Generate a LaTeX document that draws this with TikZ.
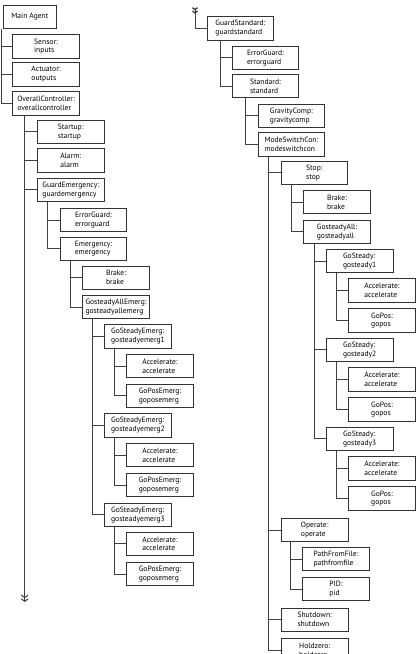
\documentclass[tikz,border=0pt]{standalone}
\usepackage{fontspec}
\setmainfont{PT Sans}
\usetikzlibrary{positioning,arrows.meta}

\begin{document}
\begin{tikzpicture}[x=1pt,y=-1pt,>={Straight Barb[length=2.6pt,width=7pt,line width=1pt]},
    box/.style={draw=black!80,line width=.9pt,anchor=west,align=left,minimum width=66.5pt,minimum height=23.5pt,inner xsep=1pt,inner ysep=1pt,font=\fontsize{7.6}{8.8}\selectfont},
    link/.style={draw=black!75,line width=.8pt},
    cont/.style={{Straight Barb[reversed,length=1.8pt,width=5pt,line width=1.4pt]Straight Barb[reversed,length=1.8pt,width=5pt,line width=1.4pt]}-}]
      \useasboundingbox (0,0) rectangle (420,654);
      % left column
      \node[box,minimum width=53pt] (ma) at (3,17) {Main Agent};
      \node[box] (sen) at (12.3,46.5) {Sensor:\\inputs};
      \node[box] (act) at (12.3,74.3) {Actuator:\\outputs};
      \node[box] (occ) at (12.3,103.5) {OverallController:\\overallcontroller};

      \node[box] (sta) at (37,131.7) {Startup:\\startup};
      \node[box] (alm) at (37,160.3) {Alarm:\\alarm};
      \node[box] (gem) at (37,189.7) {GuardEmergency:\\guardemergency};

      \node[box] (erg1) at (59.8,220) {ErrorGuard:\\errorguard};
      \node[box] (emg) at (59.8,248.7) {Emergency:\\emergency};

      \node[box] (brk1) at (82.3,277.7) {Brake:\\brake};
      \node[box] (gae) at (82.3,307) {GosteadyAllEmerg:\\gosteadyallemerg};

      \node[box] (gse1) at (104.3,336.3) {GoSteadyEmerg:\\gosteadyemerg1};
      \node[box] (acc1) at (126.3,366) {Accelerate:\\accelerate};
      \node[box] (gpe1) at (126.3,395.8) {GoPosEmerg:\\goposemerg};
      \node[box] (gse2) at (104.3,425.3) {GoSteadyEmerg:\\gosteadyemerg2};
      \node[box] (acc2) at (126.3,455) {Accelerate:\\accelerate};
      \node[box] (gpe2) at (126.3,485) {GoPosEmerg:\\goposemerg};
      \node[box] (gse3) at (104.3,514.7) {GoSteadyEmerg:\\gosteadyemerg3};
      \node[box] (acc3) at (126.3,543.8) {Accelerate:\\accelerate};
      \node[box] (gpe3) at (126.3,574) {GoPosEmerg:\\goposemerg};
      \coordinate (lend) at (24.7,602);

      % right column
      \coordinate (rbeg) at (195,7);
      \node[box] (gst) at (206.7,28.3) {GuardStandard:\\guardstandard};
      \node[box] (erg2) at (231.7,57.7) {ErrorGuard:\\errorguard};
      \node[box] (std) at (231.7,86) {Standard:\\standard};
      \node[box] (grv) at (257.7,115.8) {GravityComp:\\gravitycomp};
      \node[box] (msc) at (257.7,144.3) {ModeSwitchCon:\\modeswitchcon};

      \node[box] (stp) at (280.7,172.8) {Stop:\\stop};
      \node[box] (brk2) at (303.3,202) {Brake:\\brake};
      \node[box] (gsa) at (303.3,231.7) {GosteadyAll:\\gosteadyall};

      \node[box] (gs1) at (326,261) {GoSteady:\\gosteady1};
      \node[box] (ac1) at (348.3,290.2) {Accelerate:\\accelerate};
      \node[box] (gp1) at (348.3,320.5) {GoPos:\\gopos};
      \node[box] (gs2) at (326,349.8) {GoSteady:\\gosteady2};
      \node[box] (ac2) at (348.3,379.2) {Accelerate:\\accelerate};
      \node[box] (gp2) at (348.3,409.5) {GoPos:\\gopos};
      \node[box] (gs3) at (326,438.8) {GoSteady:\\gosteady3};
      \node[box] (ac3) at (348.3,468.3) {Accelerate:\\accelerate};
      \node[box] (gp3) at (348.3,498.5) {GoPos:\\gopos};

      \node[box] (opr) at (281,530) {Operate:\\operate};
      \node[box] (pff) at (302.3,559) {PathFromFile:\\pathfromfile};
      \node[box] (pid) at (302.3,589) {PID:\\pid};
      \node[box] (sdn) at (281,619.7) {Shutdown:\\shutdown};
      \node[box] (hz) at (281,650) {Holdzero:\\holdzero};

      % links, left
      \draw[link] ([xshift=-2pt]ma.south west) |- (sen.west);
      \draw[link] ([xshift=-2pt]ma.south west) |- (act.west);
      \draw[link] ([xshift=-2pt]ma.south west) |- (occ.west);
      \draw[link,->>] ([xshift=12.4pt]occ.south west) -- (lend);
      \draw[link] ([xshift=12.4pt]occ.south west) |- (sta.west);
      \draw[link] ([xshift=12.4pt]occ.south west) |- (alm.west);
      \draw[link] ([xshift=12.4pt]occ.south west) |- (gem.west);
      \draw[link] ([xshift=10.7pt]gem.south west) |- (erg1.west);
      \draw[link] ([xshift=10.7pt]gem.south west) |- (emg.west);
      \draw[link] ([xshift=10.5pt]emg.south west) |- (brk1.west);
      \draw[link] ([xshift=10.5pt]emg.south west) |- (gae.west);
      \draw[link] ([xshift=10pt]gae.south west) |- (gse1.west);
      \draw[link] ([xshift=10pt]gae.south west) |- (gse2.west);
      \draw[link] ([xshift=10pt]gae.south west) |- (gse3.west);
      \draw[link] ([xshift=10pt]gse1.south west) |- (acc1.west);
      \draw[link] ([xshift=10pt]gse1.south west) |- (gpe1.west);
      \draw[link] ([xshift=10pt]gse2.south west) |- (acc2.west);
      \draw[link] ([xshift=10pt]gse2.south west) |- (gpe2.west);
      \draw[link] ([xshift=10pt]gse3.south west) |- (acc3.west);
      \draw[link] ([xshift=10pt]gse3.south west) |- (gpe3.west);

      % links, right
      \draw[link,cont] (rbeg) |- (gst.west);
      \draw[link] ([xshift=13.3pt]gst.south west) |- (erg2.west);
      \draw[link] ([xshift=13.3pt]gst.south west) |- (std.west);
      \draw[link] ([xshift=13.6pt]std.south west) |- (grv.west);
      \draw[link] ([xshift=13.6pt]std.south west) |- (msc.west);
      \draw[link] ([xshift=10.6pt]msc.south west) |- (stp.west);
      \draw[link] ([xshift=10.6pt]msc.south west) |- (opr.west);
      \draw[link] ([xshift=10.6pt]msc.south west) |- (sdn.west);
      \draw[link] ([xshift=10.6pt]msc.south west) |- (hz.west);
      \draw[link] ([xshift=11pt]stp.south west) |- (brk2.west);
      \draw[link] ([xshift=11pt]stp.south west) |- (gsa.west);
      \draw[link] ([xshift=11pt]gsa.south west) |- (gs1.west);
      \draw[link] ([xshift=11pt]gsa.south west) |- (gs2.west);
      \draw[link] ([xshift=11pt]gsa.south west) |- (gs3.west);
      \draw[link] ([xshift=10pt]gs1.south west) |- (ac1.west);
      \draw[link] ([xshift=10pt]gs1.south west) |- (gp1.west);
      \draw[link] ([xshift=10pt]gs2.south west) |- (ac2.west);
      \draw[link] ([xshift=10pt]gs2.south west) |- (gp2.west);
      \draw[link] ([xshift=10pt]gs3.south west) |- (ac3.west);
      \draw[link] ([xshift=10pt]gs3.south west) |- (gp3.west);
      \draw[link] ([xshift=9.3pt]opr.south west) |- (pff.west);
      \draw[link] ([xshift=9.3pt]opr.south west) |- (pid.west);
\end{tikzpicture}
\end{document}
